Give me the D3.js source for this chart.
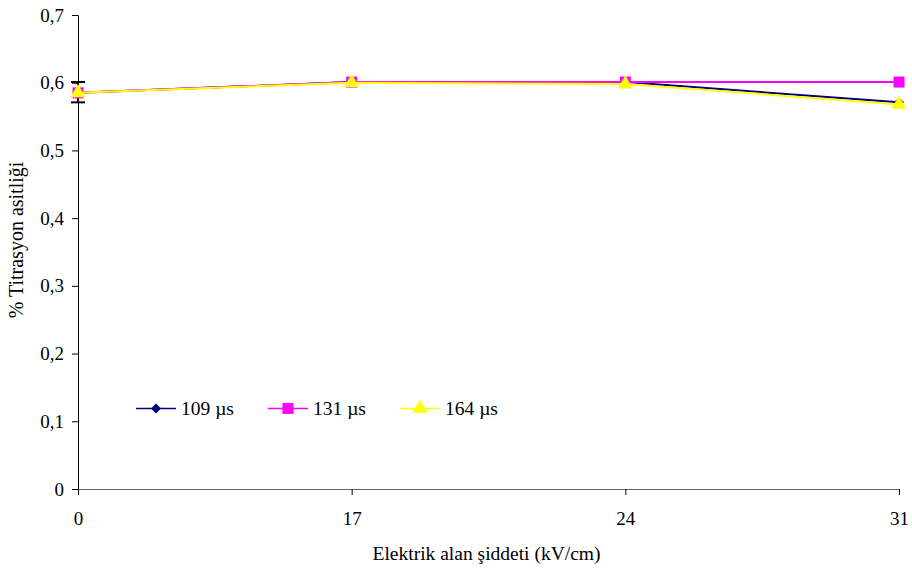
<!DOCTYPE html>
<html>
<head>
<meta charset="utf-8">
<script src="https://cdn.jsdelivr.net/npm/d3@7"></script>
<style>
  body { margin: 0; background: #fff; }
</style>
</head>
<body>
<div id="chart"></div>
<script>
// data
var categories = ["0", "17", "24", "31"];
var yTicks = [0, 0.1, 0.2, 0.3, 0.4, 0.5, 0.6, 0.7];
var s109 = [0.585, 0.601, 0.601, 0.571];
var s131 = [0.585, 0.601, 0.601, 0.601];
var s164 = [0.585, 0.600, 0.598, 0.568];
var seriesNames = ["109 µs", "131 µs", "164 µs"];
var errLow = [0.571], errHigh = [0.601]; // error bar on first point only

var FONT = "'Liberation Serif', 'Times New Roman', 'DejaVu Serif', serif";

var W = 912, H = 571;
var margin = {top: 15, right: 13, bottom: 82, left: 78},
    width = W - margin.left - margin.right,
    height = H - margin.top - margin.bottom;

var svg = d3.select("#chart")
  .append("svg")
    .attr("width", W)
    .attr("height", H)
    .style("font-family", FONT)
  .append("g")
    .attr("transform", "translate(" + margin.left + "," + margin.top + ")");

var x = d3.scalePoint().domain(categories).range([0, width]);
var y = d3.scaleLinear().domain([0, 0.7]).range([height, 0]);

var fmt = function(d) { return d === 0 ? "0" : d3.format(".1f")(d).replace(".", ","); };

// axes
var yAxis = svg.append("g")
  .call(d3.axisLeft(y).tickValues(yTicks).tickFormat(fmt).tickSize(6).tickPadding(8));
yAxis.attr("font-family", null);
yAxis.select(".domain").attr("stroke", "#000");
yAxis.selectAll("text").style("font-size", "19px").style("font-family", FONT).attr("fill", "#000");

var xAxis = svg.append("g")
  .attr("transform", "translate(0," + height + ")")
  .call(d3.axisBottom(x).tickSize(6).tickSizeOuter(0).tickPadding(17));
xAxis.attr("font-family", null);
xAxis.select(".domain").attr("stroke", "#666");
xAxis.selectAll("text").style("font-size", "19px").style("font-family", FONT).attr("fill", "#000");

// axis titles
svg.append("text")
  .attr("x", width / 2 - 2)
  .attr("y", height + 71)
  .attr("text-anchor", "middle")
  .style("font-size", "19.5px")
  .style("font-family", FONT)
  .text("Elektrik alan şiddeti (kV/cm)");

svg.append("text")
  .attr("transform", "translate(" + (-55) + "," + (height / 2 - 12) + ") rotate(-90)")
  .attr("text-anchor", "middle")
  .style("font-size", "20px")
  .style("font-family", FONT)
  .text("% Titrasyon asitliği");

// error bar
var eb = svg.append("g").attr("stroke", "#000").attr("stroke-width", 2);
errLow.forEach(function(lo, i) {
  var cx = x(categories[i]);
  eb.append("line").attr("x1", cx).attr("x2", cx).attr("y1", y(errHigh[i])).attr("y2", y(lo));
  eb.append("line").attr("x1", cx - 7).attr("x2", cx + 7).attr("y1", y(errHigh[i])).attr("y2", y(errHigh[i]));
  eb.append("line").attr("x1", cx - 7).attr("x2", cx + 7).attr("y1", y(lo)).attr("y2", y(lo));
});

var series = [
  {name: seriesNames[0], values: s109, color: "#000080", symbol: d3.symbolSquare, size: 50, rot: 45},
  {name: seriesNames[1], values: s131, color: "#ff00ff", symbol: d3.symbolSquare, size: 121, rot: 0},
  {name: seriesNames[2], values: s164, color: "#ffff00", symbol: d3.symbolTriangle, size: 100, rot: 0}
];

var line = d3.line()
  .x(function(d, i) { return x(categories[i]); })
  .y(function(d) { return y(d); });

series.forEach(function(s) {
  svg.append("path")
    .datum(s.values)
    .attr("fill", "none")
    .attr("stroke", s.color)
    .attr("stroke-width", 2)
    .attr("d", line);
  svg.selectAll(null)
    .data(s.values)
    .enter()
    .append("path")
      .attr("transform", function(d, i) {
        return "translate(" + x(categories[i]) + "," + y(d) + ") rotate(" + s.rot + ")";
      })
      .attr("d", d3.symbol().type(s.symbol).size(s.size))
      .attr("fill", s.color);
});

// legend
var legend = svg.append("g").attr("transform", "translate(58," + (y(0.119)) + ")");
series.forEach(function(s, i) {
  var g = legend.append("g").attr("transform", "translate(" + (i * 132) + ",0)");
  g.append("line").attr("x1", 0).attr("x2", 40).attr("stroke", s.color).attr("stroke-width", 1.5);
  g.append("path").attr("transform", "translate(20,0) rotate(" + s.rot + ")")
    .attr("d", d3.symbol().type(s.symbol).size(s.size)).attr("fill", s.color);
  g.append("text").attr("x", 45).attr("dy", "0.35em")
    .style("font-size", "19.5px").style("font-family", FONT).text(s.name);
});
</script>
</body>
</html>
